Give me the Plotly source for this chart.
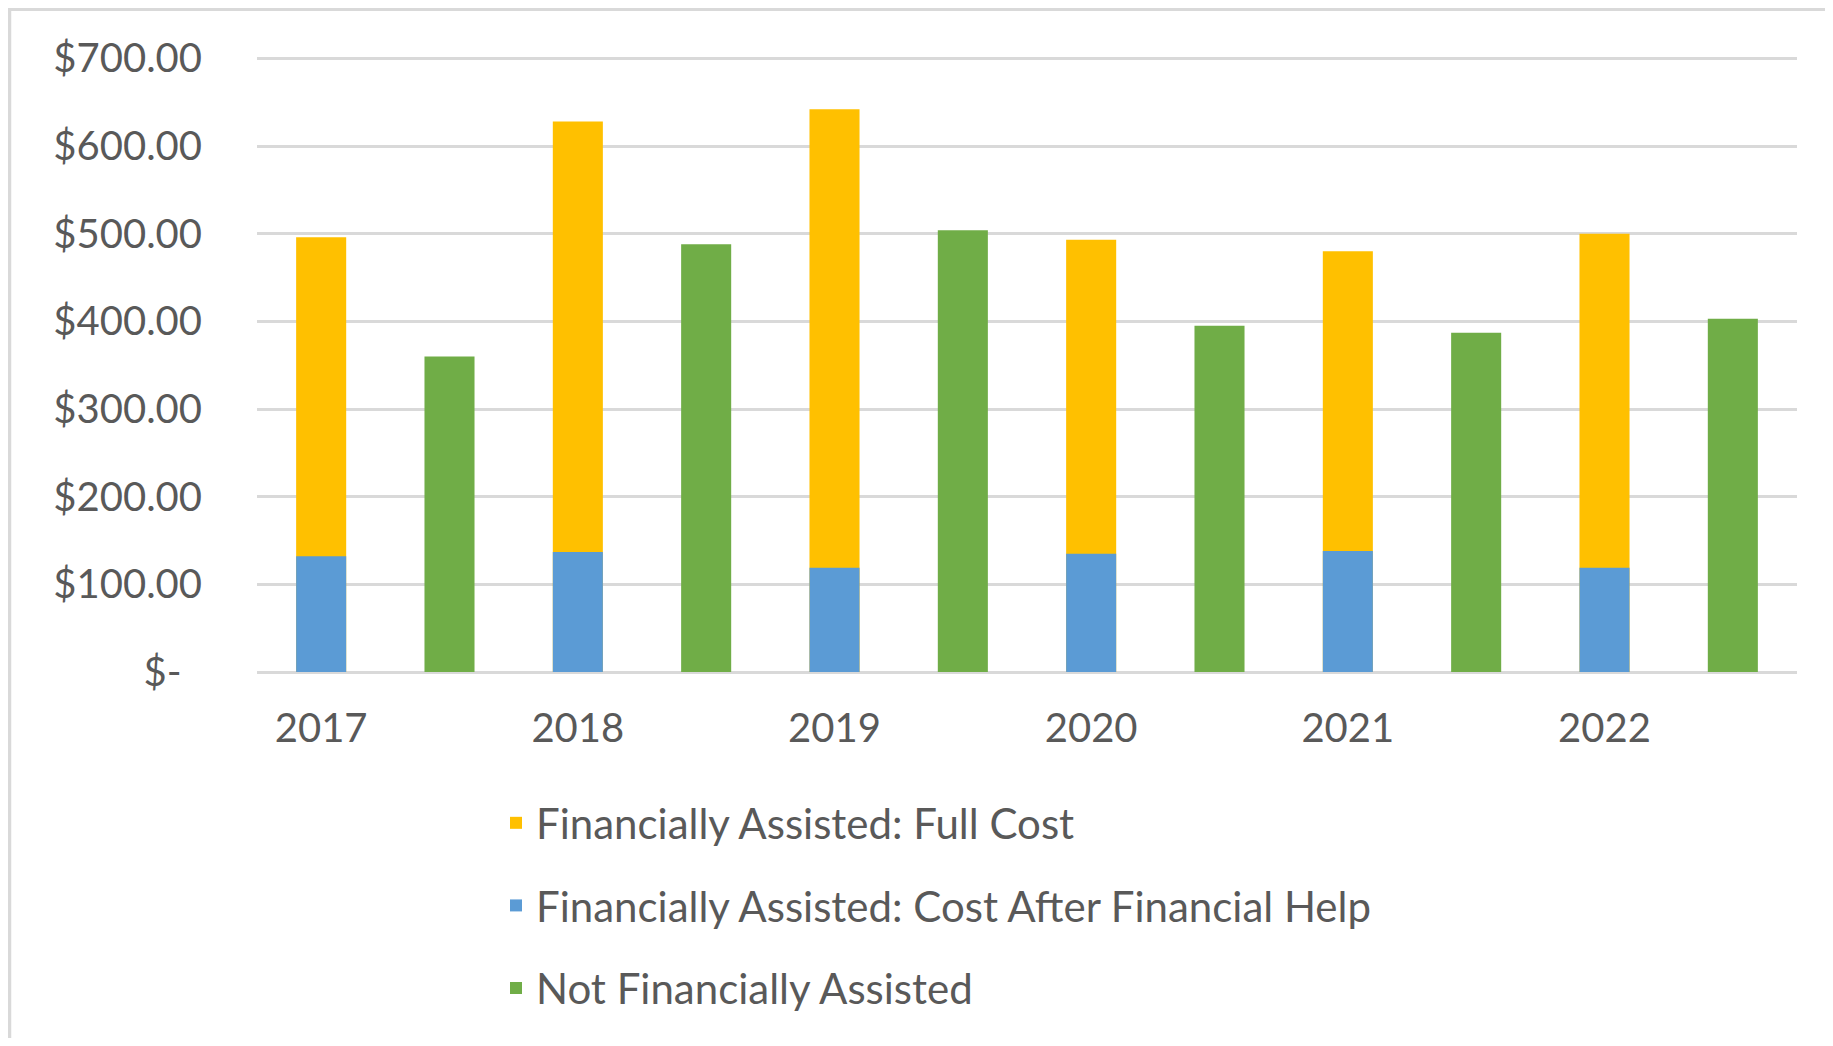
import plotly.graph_objects as go

years = ["2017", "2018", "2019", "2020", "2021", "2022"]
full_cost = [496, 628, 642, 493, 480, 500]
after_help = [132, 137, 119, 135, 138, 119]
not_assisted = [360, 488, 504, 395, 387, 403]

y_tickvals = [0, 100, 200, 300, 400, 500, 600, 700]
y_ticktext = ["$-\u00a0\u00a0", "$100.00", "$200.00", "$300.00", "$400.00",
              "$500.00", "$600.00", "$700.00"]

names = ["Financially Assisted: Full Cost",
         "Financially Assisted: Cost After Financial Help",
         "Not Financially Assisted"]
colors = ["#FFC000", "#5B9BD5", "#70AD47"]

# each year occupies two category slots: assisted bar, then non-assisted bar
x_fa = [2 * i for i in range(len(years))]
x_nfa = [2 * i + 1 for i in range(len(years))]

W = 0.39
fig = go.Figure()
fig.add_trace(go.Bar(x=x_fa, y=full_cost, name=names[0], width=W,
                     marker=dict(color=colors[0], line=dict(width=0)),
                     legendgroup="a"))
fig.add_trace(go.Bar(x=x_fa, y=after_help, name=names[1], width=W,
                     marker=dict(color=colors[1], line=dict(width=0)),
                     legendgroup="b"))
fig.add_trace(go.Bar(x=x_nfa, y=not_assisted, name=names[2], width=W,
                     marker=dict(color=colors[2], line=dict(width=0)),
                     legendgroup="c"))

FW, FH = 1817, 1030          # page has an 8px body margin
L, R = 249, 1789
ZERO, TOP700 = 664, 50.5
YMAX = 705
scale = (ZERO - TOP700) / 700
T = TOP700 - (YMAX - 700) * scale
PW, PH = R - L, ZERO - T

def px_x(p):
    return (p - L) / PW

def px_y(p):
    return (ZERO - p) / PH

fig.update_layout(
    width=FW, height=FH,
    margin=dict(l=L, r=FW - R, t=T, b=FH - ZERO, pad=0),
    barmode="overlay",
    plot_bgcolor="white", paper_bgcolor="white",
    font=dict(family="Lato", color="#595959", size=40),
    showlegend=True,
    legend=dict(orientation="v", x=px_x(488), xanchor="left",
                y=px_y(781), yanchor="top",
                font=dict(size=42, color="#595959"),
                traceorder="grouped", tracegroupgap=25,
                bgcolor="rgba(0,0,0,0)"),
    xaxis=dict(range=[-0.5, 11.5], tickvals=x_fa, ticktext=years,
               showgrid=False, zeroline=False, showline=False,
               ticks="", ticklabelstandoff=29,
               tickfont=dict(size=40, color="#595959")),
    yaxis=dict(range=[0, YMAX], tickvals=y_tickvals, ticktext=y_ticktext,
               showgrid=True, gridcolor="#D9D9D9", gridwidth=2.5,
               zeroline=True, zerolinecolor="#D9D9D9", zerolinewidth=2.5,
               showline=False, ticks="", ticklabelstandoff=54,
               tickfont=dict(size=40, color="#595959")),
    shapes=[
        dict(type="line", xref="paper", yref="paper",
             x0=px_x(1.5), x1=px_x(1.5), y0=px_y(1100), y1=px_y(1.5),
             line=dict(color="#D9D9D9", width=3.5)),
        dict(type="line", xref="paper", yref="paper",
             x0=px_x(0), x1=px_x(1900), y0=px_y(1.5), y1=px_y(1.5),
             line=dict(color="#D9D9D9", width=3.5)),
    ],
)

fig.write_html("out.html")
